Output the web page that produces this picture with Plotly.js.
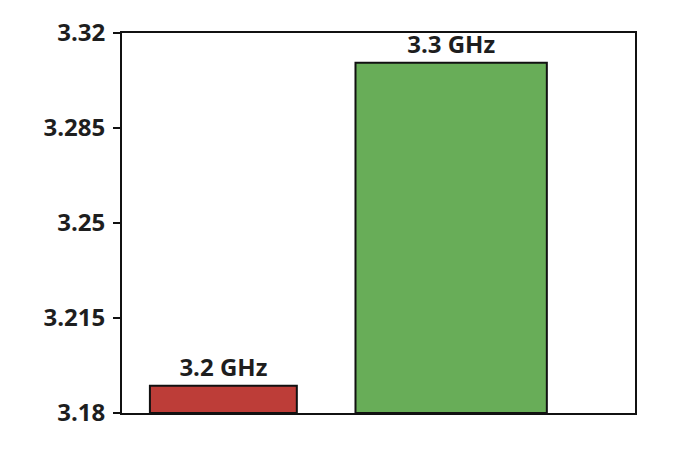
<!DOCTYPE html>
<html>
<head>
<meta charset="utf-8">
<script src="https://cdn.plot.ly/plotly-3.0.1.min.js"></script>
<style>html,body{margin:0;padding:0;background:#fff;}#chart{width:680px;height:468px;}</style>
</head>
<body>
<div id="chart"></div>
<script>
const categories = ["3.2 GHz", "3.3 GHz"];
const clockSpeeds = [3.19, 3.309];
const barLabels = ["3.2 GHz", "3.3 GHz"];
const axisBase = 3.18;
const tickValues = [3.18, 3.215, 3.25, 3.285, 3.32];
const tickLabels = ["3.18", "3.215", "3.25", "3.285", "3.32"];

const trace = {
  type: "bar",
  x: categories,
  y: clockSpeeds.map(v => v - axisBase),
  base: axisBase,
  width: [0.645, 0.84],
  marker: { color: ["#bd3d38", "#68ad58"], line: { color: "#111", width: 2 } },
  text: barLabels,
  textposition: "outside",
  cliponaxis: false,
  textfont: { family: "Open Sans, Lato, sans-serif", size: 24, color: "#1e1e1e", weight: 700 },
  hoverinfo: "none"
};

const layout = {
  width: 680, height: 468,
  margin: { l: 122, r: 45, t: 33, b: 55 },
  paper_bgcolor: "#fff", plot_bgcolor: "#fff",
  showlegend: false,
  font: { family: "Open Sans, Lato, sans-serif", color: "#1e1e1e" },
  xaxis: {
    type: "category",
    range: [-0.445, 1.807],
    showticklabels: false,
    ticks: "",
    showgrid: false,
    zeroline: false,
    showline: true, mirror: true, linecolor: "#111", linewidth: 2
  },
  yaxis: {
    range: [3.18, 3.32],
    tickvals: tickValues,
    ticktext: tickLabels,
    ticks: "outside", ticklen: 7, tickwidth: 2, tickcolor: "#111",
    ticklabelstandoff: 3,
    tickfont: { size: 24, family: "Open Sans, Lato, sans-serif", color: "#1e1e1e", weight: 700 },
    showgrid: false, zeroline: false,
    showline: true, mirror: true, linecolor: "#111", linewidth: 2
  }
};

Plotly.newPlot("chart", [trace], layout, { displayModeBar: false, staticPlot: true });
</script>
</body>
</html>
